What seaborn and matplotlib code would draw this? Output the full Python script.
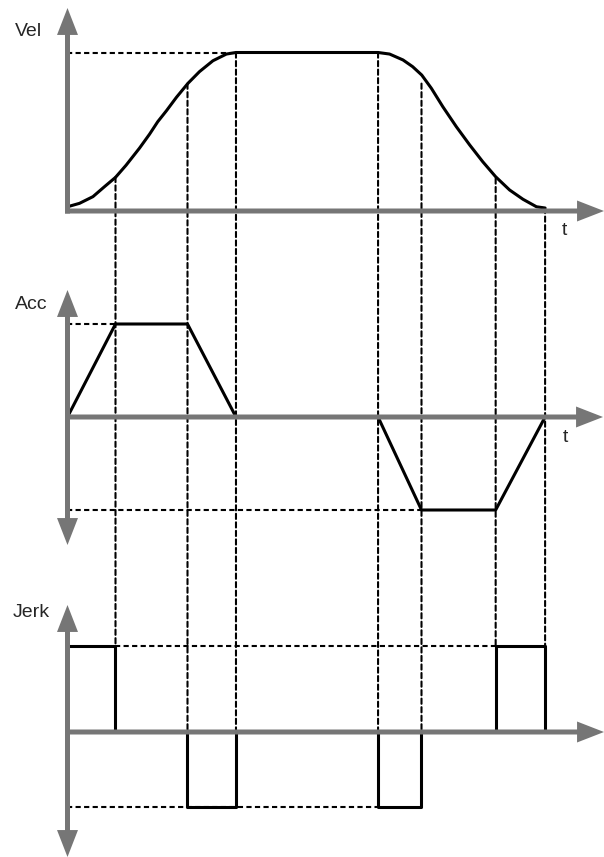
import matplotlib
matplotlib.use("Agg")
import matplotlib.pyplot as plt
from matplotlib.patches import FancyArrowPatch, ConnectionPatch
import pandas as pd
import seaborn as sns

# phase boundaries t0..t7 (time units)
phase_t = [0.0, 1.0, 2.5, 3.51, 6.47, 7.375, 8.92, 9.95]

# velocity curve
vel_t = [0.0, 0.25, 0.53, 0.77, 1.0, 1.22, 1.5, 1.71, 1.88, 2.06, 2.27, 2.51,
         2.75, 3.03, 3.31, 3.51,
         6.47, 6.71, 6.99, 7.19, 7.38, 7.58, 7.82, 8.10, 8.38, 8.65, 8.92,
         9.21, 9.49, 9.77, 9.95]
vel_v = [0.008, 0.030, 0.073, 0.137, 0.197, 0.275, 0.385, 0.475, 0.555, 0.625,
         0.712, 0.802, 0.877, 0.947, 0.990, 1.0,
         1.0, 0.990, 0.952, 0.909, 0.855, 0.770, 0.651, 0.523, 0.405, 0.298,
         0.201, 0.116, 0.056, 0.008, 0.0]

# acceleration: two trapezoids
acc_pulse = [1, 1, 1, 1, 2, 2, 2, 2]
acc_t = [0.0, 1.0, 2.5, 3.51, 6.47, 7.375, 8.92, 9.95]
acc_v = [0, 1, 1, 0, 0, -1, -1, 0]

# jerk: four rectangular pulses
jerk_pulse = [1, 1, 1, 1, 2, 2, 2, 2, 3, 3, 3, 3, 4, 4, 4, 4]
jerk_t = [0.0, 0.0, 1.0, 1.0, 2.5, 2.5, 3.51, 3.51,
          6.47, 6.47, 7.375, 7.375, 8.92, 8.92, 9.95, 9.95]
jerk_v = [0, 1, 1, 0, 0, -0.872, -0.872, 0,
          0, -0.872, -0.872, 0, 0, 1, 1, 0]

# where the vertical guides start (velocity) and stop (jerk) for t1..t7
guide_vel_top = [0.2, 0.8, 1.0, 1.0, 0.8, 0.19, 0.0]
guide_jerk_end = [1, 0, 0, 0, 0, 1, 1]

W, H = 604, 857
X_ORIGIN, T_PX = 67.5, 48.0
GRAY = "#767676"
DASH = (0, (2.5, 1.6))
DASH_LW = 1.5

sns.set_theme(style="white")
plt.rcParams['font.family'] = ['Liberation Sans', 'DejaVu Sans']

fig = plt.figure(figsize=(W / 100, H / 100), dpi=100)


def make_panel(top, bottom):
    return fig.add_axes([0, 1 - bottom / H, 1, (bottom - top) / H])


def finish_panel(ax, top, bottom, zero, unit):
    ax.set_xlim(-X_ORIGIN / T_PX, (W - X_ORIGIN) / T_PX)
    ax.set_ylim((zero - bottom) / unit, (zero - top) / unit)
    ax.axis('off')


def arrow(x0, y0, x1, y1):
    # axis arrow in image pixel coordinates
    a = FancyArrowPatch((x0 / W, 1 - y0 / H), (x1 / W, 1 - y1 / H),
                        transform=fig.transFigure,
                        arrowstyle="simple,head_length=19.4,head_width=15.1,tail_width=3.6",
                        mutation_scale=1, color=GRAY, lw=0,
                        shrinkA=0, shrinkB=0, zorder=5)
    fig.add_artist(a)


ax_vel = make_panel(0, 262)
ax_acc = make_panel(262, 578)
ax_jerk = make_panel(578, 857)

# velocity
sns.lineplot(x=vel_t, y=vel_v, ax=ax_vel, color='black', lw=2.2,
             estimator=None, sort=False, zorder=3)
ax_vel.plot([phase_t[0], phase_t[3]], [1, 1], color='black', lw=DASH_LW,
            linestyle=DASH, zorder=1)
finish_panel(ax_vel, 0, 262, 208, 155.5)

# acceleration
acc_df = pd.DataFrame({'t': acc_t, 'v': acc_v, 'pulse': acc_pulse})
sns.lineplot(data=acc_df, x='t', y='v', units='pulse', estimator=None,
             sort=False, color='black', lw=2.2, ax=ax_acc, zorder=3)
ax_acc.plot([phase_t[0], phase_t[1]], [1, 1], color='black', lw=DASH_LW,
            linestyle=DASH, zorder=1)
ax_acc.plot([phase_t[0], phase_t[5]], [-1, -1], color='black', lw=DASH_LW,
            linestyle=DASH, zorder=1)
finish_panel(ax_acc, 262, 578, 417, 93)

# jerk
jerk_df = pd.DataFrame({'t': jerk_t, 'v': jerk_v, 'pulse': jerk_pulse})
sns.lineplot(data=jerk_df, x='t', y='v', units='pulse', estimator=None,
             sort=False, color='black', lw=2.2, ax=ax_jerk, zorder=3)
ax_jerk.plot([phase_t[1], phase_t[6]], [1, 1], color='black', lw=DASH_LW,
             linestyle=DASH, zorder=1)
ax_jerk.plot([phase_t[0], phase_t[4]], [-0.872, -0.872], color='black',
             lw=DASH_LW, linestyle=DASH, zorder=1)
finish_panel(ax_jerk, 578, 857, 732, 86)

# vertical guides spanning all three panels
for t, vtop, jend in zip(phase_t[1:], guide_vel_top, guide_jerk_end):
    con = ConnectionPatch(xyA=(t, vtop), coordsA='data', axesA=ax_vel,
                          xyB=(t, jend), coordsB='data', axesB=ax_jerk,
                          color='black', lw=DASH_LW, linestyle=DASH, zorder=-1)
    fig.add_artist(con)

# axes with arrows
arrow(X_ORIGIN, 213.5, X_ORIGIN, 8)
arrow(65, 211, 604, 211)
arrow(X_ORIGIN, 417, X_ORIGIN, 290)
arrow(X_ORIGIN, 417, X_ORIGIN, 545)
arrow(X_ORIGIN, 417, 603, 417)
arrow(X_ORIGIN, 732, X_ORIGIN, 605)
arrow(X_ORIGIN, 732, X_ORIGIN, 857)
arrow(X_ORIGIN, 732, 604, 732)

# labels
fs = 14
fig.text(15 / W, 1 - 36 / H, 'Vel', fontsize=fs, ha='left', va='baseline')
fig.text(15 / W, 1 - 309 / H, 'Acc', fontsize=fs, ha='left', va='baseline')
fig.text(13 / W, 1 - 617 / H, 'Jerk', fontsize=fs, ha='left', va='baseline')
fig.text(564 / W, 1 - 235 / H, 't', fontsize=fs, ha='center', va='baseline')
fig.text(565 / W, 1 - 442 / H, 't', fontsize=fs, ha='center', va='baseline')

fig.savefig('out.png', dpi=100)
